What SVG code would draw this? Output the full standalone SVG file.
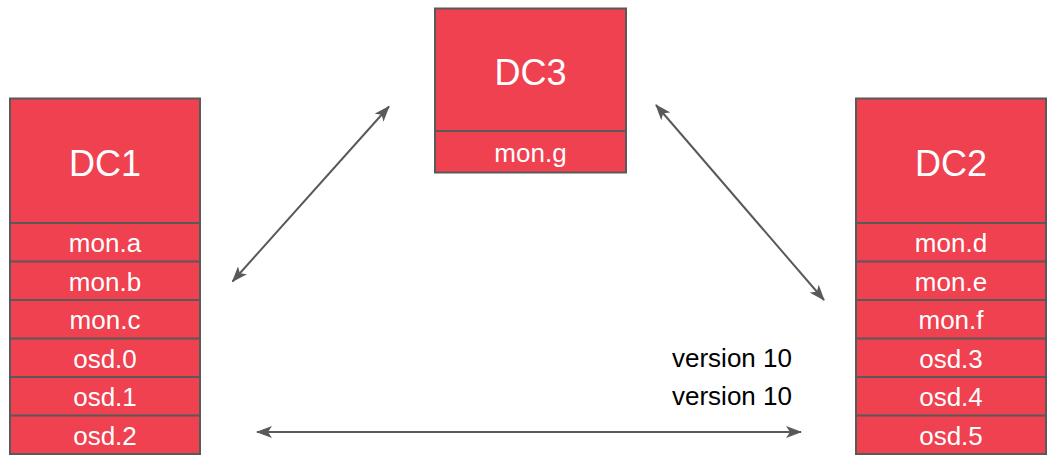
<svg xmlns="http://www.w3.org/2000/svg" width="1048" height="460" viewBox="0 0 1048 460">
  <style>
    .box { fill: #EF4150; stroke: #595959; stroke-width: 2; }
    .div { stroke: #595959; stroke-width: 2; }
    .title { font-family: "Liberation Sans", Arial, sans-serif; font-size: 36px; fill: #ffffff; text-anchor: middle; }
    .item { font-family: "Liberation Sans", Arial, sans-serif; font-size: 26px; fill: #ffffff; text-anchor: middle; }
    .note { font-family: "Liberation Sans", Arial, sans-serif; font-size: 26px; fill: #000000; }
    .link { stroke: #595959; stroke-width: 2; fill: none; marker-start: url(#head); marker-end: url(#head); }
  </style>
  <defs>
    <marker id="head" viewBox="0 0 16 12" refX="15" refY="6" markerWidth="16" markerHeight="12" markerUnits="userSpaceOnUse" orient="auto-start-reverse">
      <path d="M0,0 L16,6 L0,12 L4,6 Z" fill="#595959"/>
    </marker>
  </defs>

  <!-- DC1 -->
  <g id="dc1">
    <rect class="box" x="10" y="98.5" width="190" height="355.5"/>
    <line class="div" x1="10" y1="223" x2="200" y2="223"/>
    <line class="div" x1="10" y1="261.5" x2="200" y2="261.5"/>
    <line class="div" x1="10" y1="300" x2="200" y2="300"/>
    <line class="div" x1="10" y1="338.5" x2="200" y2="338.5"/>
    <line class="div" x1="10" y1="377" x2="200" y2="377"/>
    <line class="div" x1="10" y1="415.5" x2="200" y2="415.5"/>
    <text class="title" x="105" y="176">DC1</text>
    <text class="item" x="105" y="252">mon.a</text>
    <text class="item" x="105" y="290.5">mon.b</text>
    <text class="item" x="105" y="329">mon.c</text>
    <text class="item" x="105" y="367.5">osd.0</text>
    <text class="item" x="105" y="406">osd.1</text>
    <text class="item" x="105" y="444.5">osd.2</text>
  </g>

  <!-- DC3 -->
  <g id="dc3">
    <rect class="box" x="435" y="8.5" width="191" height="164"/>
    <line class="div" x1="435" y1="131" x2="626" y2="131"/>
    <text class="title" x="530.5" y="85">DC3</text>
    <text class="item" x="530.5" y="162">mon.g</text>
  </g>

  <!-- DC2 -->
  <g id="dc2">
    <rect class="box" x="856" y="98.5" width="190" height="355.5"/>
    <line class="div" x1="856" y1="223" x2="1046" y2="223"/>
    <line class="div" x1="856" y1="261.5" x2="1046" y2="261.5"/>
    <line class="div" x1="856" y1="300" x2="1046" y2="300"/>
    <line class="div" x1="856" y1="338.5" x2="1046" y2="338.5"/>
    <line class="div" x1="856" y1="377" x2="1046" y2="377"/>
    <line class="div" x1="856" y1="415.5" x2="1046" y2="415.5"/>
    <text class="title" x="951" y="176">DC2</text>
    <text class="item" x="951" y="252">mon.d</text>
    <text class="item" x="951" y="290.5">mon.e</text>
    <text class="item" x="951" y="329">mon.f</text>
    <text class="item" x="951" y="367.5">osd.3</text>
    <text class="item" x="951" y="406">osd.4</text>
    <text class="item" x="951" y="444.5">osd.5</text>
  </g>

  <!-- links between data centres -->
  <g id="connectors">
    <line class="link" x1="232.5" y1="281.5" x2="389" y2="106.5"/>
    <line class="link" x1="656" y1="105" x2="824" y2="300"/>
    <line class="link" x1="257" y1="432" x2="801" y2="432"/>
  </g>

  <text class="note" x="672" y="367">version 10</text>
  <text class="note" x="672" y="405">version 10</text>
</svg>
